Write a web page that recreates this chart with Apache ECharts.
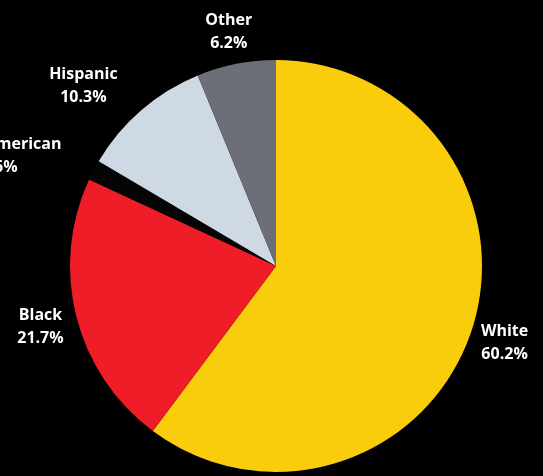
<!DOCTYPE html>
<html>
<head>
<meta charset="utf-8">
<script src="https://cdn.jsdelivr.net/npm/echarts@6/dist/echarts.min.js"></script>
<style>
html,body{margin:0;padding:0;background:#000;}
#chart{width:543px;height:476px;}
</style>
</head>
<body>
<div id="chart"></div>
<script>
const categories = ['White', 'Black', 'Asian American', 'Hispanic', 'Other'];
const values = [60.2, 21.7, 1.6, 10.3, 6.2];
const colors = ['#F9CD0B', '#EE1D27', '#050505', '#CFD9E3', '#6C6E78'];
const labelShiftX = [-3, 1, -61, -33, 0];
const labelShiftY = [0, 1, 3, 4, 5];

const chart = echarts.init(document.getElementById('chart'), null, {renderer: 'canvas'});
const sliceData = categories.map((c, i) => ({name: c, value: values[i], itemStyle: {color: colors[i]}}));
const labelData = categories.map((c, i) => ({
  name: c, value: values[i],
  label: {offset: [labelShiftX[i], labelShiftY[i]]}
}));
chart.setOption({
  backgroundColor: '#000',
  animation: false,
  series: [
    {
      type: 'pie',
      center: [276, 266],
      radius: [0, 206],
      startAngle: 90,
      clockwise: true,
      silent: true,
      label: {show: false},
      labelLine: {show: false},
      itemStyle: {borderWidth: 0},
      data: sliceData
    },
    {
      type: 'pie',
      center: [276, 266],
      radius: [226, 256],
      startAngle: 90,
      clockwise: true,
      silent: true,
      itemStyle: {color: 'rgba(0,0,0,0)', borderWidth: 0},
      labelLine: {show: false},
      label: {
        show: true,
        position: 'inside',
        formatter: p => p.name + '\n' + p.value.toFixed(1) + '%',
        color: '#fff',
        fontFamily: 'Open Sans',
        fontWeight: 'bold',
        fontSize: 16,
        lineHeight: 23,
        align: 'center'
      },
      data: labelData
    }
  ]
});
</script>
</body>
</html>
